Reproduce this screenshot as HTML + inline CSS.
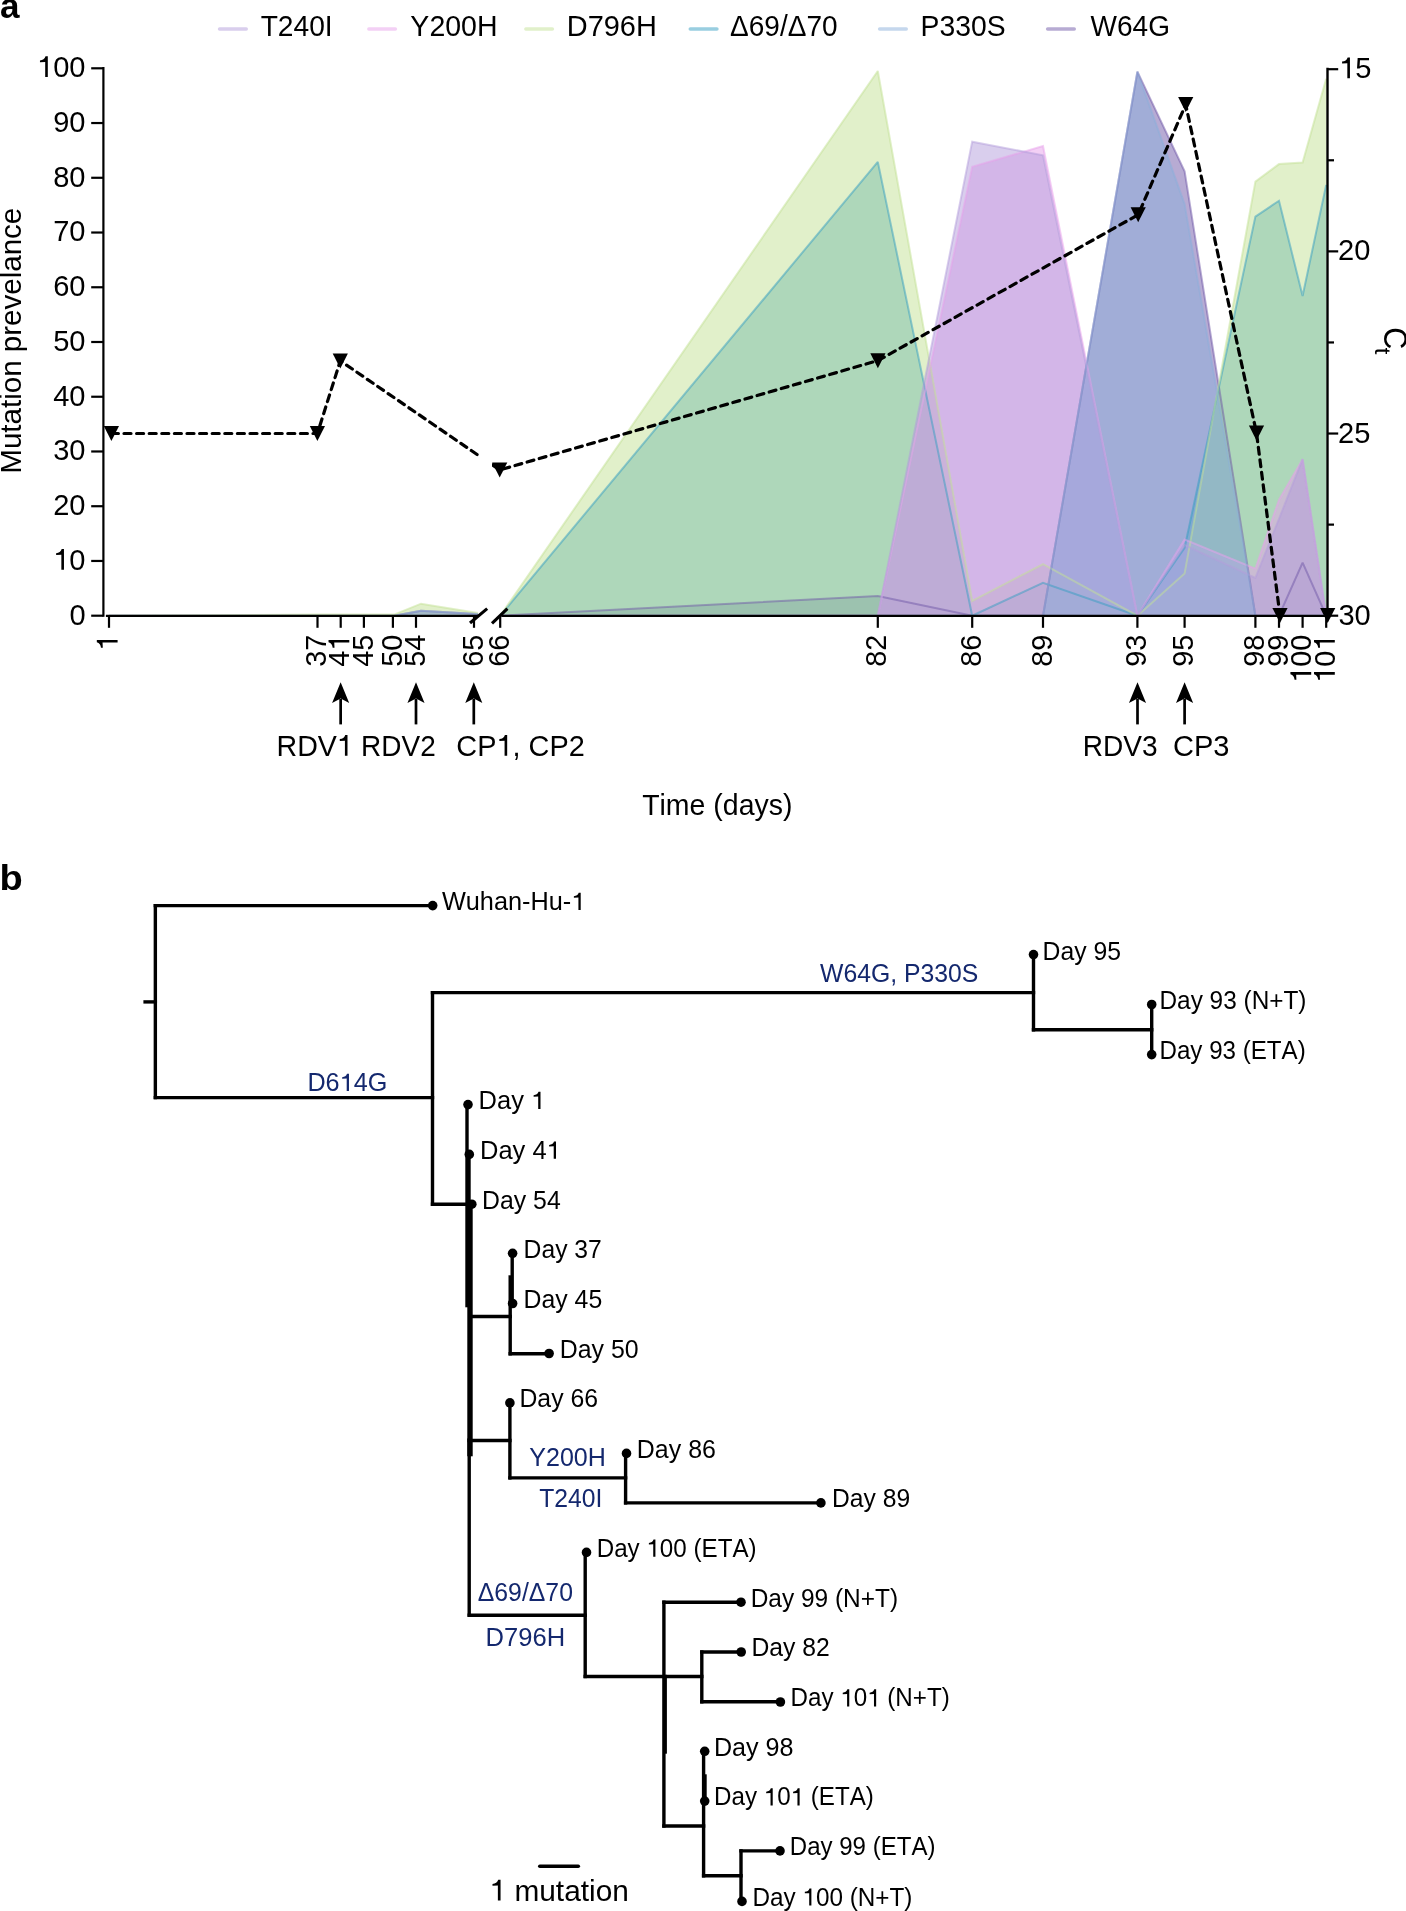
<!DOCTYPE html><html><head><meta charset="utf-8"><style>
html,body{margin:0;padding:0;background:#fff;}
body{width:1406px;height:1911px;overflow:hidden;}
svg{display:block;font-family:"Liberation Sans",sans-serif;font-kerning:none;will-change:transform;}
</style></head><body>
<svg width="1406" height="1911" viewBox="0 0 1406 1911">
<g transform="translate(0.07,17.60) scale(1.0020,1)" fill="#000"><text x="0" y="0" font-size="35.00" font-weight="bold">a</text></g>
<g transform="translate(-0.41,889.60) scale(1.0886,1)" fill="#000"><text x="0" y="0" font-size="35.00" font-weight="bold">b</text></g>
<line x1="219.6" y1="29" x2="246.2" y2="29" stroke="rgb(180,158,220)" stroke-opacity="0.5" stroke-width="3.6" stroke-linecap="round"/>
<g transform="translate(260.67,35.80) scale(0.9328,1)" fill="#000"><text x="0" y="0" font-size="30.20">T240I</text></g>
<line x1="368.9" y1="29" x2="395.3" y2="29" stroke="rgb(232,162,235)" stroke-opacity="0.5" stroke-width="3.6" stroke-linecap="round"/>
<g transform="translate(410.37,35.80) scale(0.9438,1)" fill="#000"><text x="0" y="0" font-size="30.20">Y200H</text></g>
<line x1="525.9" y1="29" x2="552.3" y2="29" stroke="rgb(195,225,150)" stroke-opacity="0.5" stroke-width="3.6" stroke-linecap="round"/>
<g transform="translate(566.72,35.80) scale(0.9588,1)" fill="#000"><text x="0" y="0" font-size="30.20">D796H</text></g>
<line x1="690.3" y1="29" x2="716.9" y2="29" stroke="rgb(52,157,194)" stroke-opacity="0.5" stroke-width="3.6" stroke-linecap="round"/>
<g transform="translate(730.07,35.80) scale(0.9276,1)" fill="#000"><text x="0" y="0" font-size="30.20">Δ69/Δ70</text></g>
<line x1="879.7" y1="29" x2="906.2" y2="29" stroke="rgb(140,176,220)" stroke-opacity="0.5" stroke-width="3.6" stroke-linecap="round"/>
<g transform="translate(920.58,35.80) scale(0.9377,1)" fill="#000"><text x="0" y="0" font-size="30.20">P330S</text></g>
<line x1="1047.7" y1="29" x2="1074.2" y2="29" stroke="rgb(112,88,168)" stroke-opacity="0.5" stroke-width="3.6" stroke-linecap="round"/>
<g transform="translate(1090.58,35.80) scale(0.9279,1)" fill="#000"><text x="0" y="0" font-size="30.20">W64G</text></g>
<g>
<path d="M109.00,615.70 L109.00,615.70 317.50,615.70 340.70,615.70 363.90,615.70 394.00,615.70 421.00,610.77 478.00,614.06 L478.00,615.70 Z" fill="rgb(112,88,168)" fill-opacity="0.5"/>
<path d="M500.20,615.70 L500.20,615.70 877.80,595.99 972.20,615.70 1043.00,615.70 1137.40,71.58 1184.60,171.21 1255.40,615.70 1279.00,615.70 1302.60,562.60 1326.20,615.70 L1326.20,615.70 Z" fill="rgb(112,88,168)" fill-opacity="0.5"/>
<path d="M500.20,615.70 L500.20,615.70 877.80,161.91 972.20,615.70 1043.00,582.86 1137.40,615.70 1184.60,547.82 1255.40,216.65 1279.00,200.77 1302.60,296.02 1326.20,184.90 L1326.20,615.70 Z" fill="rgb(52,157,194)" fill-opacity="0.5"/>
<path d="M109.00,615.70 L109.00,615.70 317.50,614.61 340.70,614.61 363.90,614.61 394.00,614.61 421.00,603.66 478.00,612.96 L478.00,615.70 Z" fill="rgb(195,225,150)" fill-opacity="0.5"/>
<path d="M500.20,615.70 L500.20,615.70 877.80,71.04 972.20,600.92 1043.00,564.24 1137.40,615.70 1184.60,573.55 1255.40,181.61 1279.00,164.09 1302.60,162.45 1326.20,78.70 L1326.20,615.70 Z" fill="rgb(195,225,150)" fill-opacity="0.5"/>
<path d="M500.20,615.70 L500.20,615.70 877.80,615.70 972.20,166.83 1043.00,146.03 1137.40,615.70 1184.60,539.61 1255.40,568.62 1279.00,499.65 1302.60,459.14 1326.20,615.70 L1326.20,615.70 Z" fill="rgb(232,162,235)" fill-opacity="0.5"/>
<path d="M500.20,615.70 L500.20,615.70 877.80,615.70 972.20,141.65 1043.00,155.34 1137.40,615.70 1184.60,545.09 1255.40,577.93 1279.00,518.81 1302.60,459.14 1326.20,615.70 L1326.20,615.70 Z" fill="rgb(180,158,220)" fill-opacity="0.5"/>
<path d="M109.00,615.70 L109.00,615.70 317.50,615.70 340.70,615.70 363.90,615.70 394.00,615.70 421.00,610.77 478.00,614.06 L478.00,615.70 Z" fill="rgb(140,176,220)" fill-opacity="0.5"/>
<path d="M500.20,615.70 L500.20,615.70 877.80,615.70 972.20,615.70 1043.00,615.70 1137.40,71.58 1184.60,204.06 1255.40,615.70 1279.00,615.70 1302.60,615.70 1326.20,615.70 L1326.20,615.70 Z" fill="rgb(140,176,220)" fill-opacity="0.5"/>
<path d="M109.00,615.70 L317.50,615.70 L340.70,615.70 L363.90,615.70 L394.00,615.70 L421.00,610.77 L478.00,614.06" fill="none" stroke="rgb(112,88,168)" stroke-opacity="0.5" stroke-width="2.0" stroke-linejoin="miter" stroke-miterlimit="2"/>
<path d="M500.20,615.70 L877.80,595.99 L972.20,615.70 L1043.00,615.70 L1137.40,71.58 L1184.60,171.21 L1255.40,615.70 L1279.00,615.70 L1302.60,562.60 L1326.20,615.70" fill="none" stroke="rgb(112,88,168)" stroke-opacity="0.5" stroke-width="2.0" stroke-linejoin="miter" stroke-miterlimit="2"/>
<path d="M500.20,615.70 L877.80,161.91 L972.20,615.70 L1043.00,582.86 L1137.40,615.70 L1184.60,547.82 L1255.40,216.65 L1279.00,200.77 L1302.60,296.02 L1326.20,184.90" fill="none" stroke="rgb(52,157,194)" stroke-opacity="0.5" stroke-width="2.0" stroke-linejoin="miter" stroke-miterlimit="2"/>
<path d="M109.00,615.70 L317.50,614.61 L340.70,614.61 L363.90,614.61 L394.00,614.61 L421.00,603.66 L478.00,612.96" fill="none" stroke="rgb(195,225,150)" stroke-opacity="0.5" stroke-width="2.0" stroke-linejoin="miter" stroke-miterlimit="2"/>
<path d="M500.20,615.70 L877.80,71.04 L972.20,600.92 L1043.00,564.24 L1137.40,615.70 L1184.60,573.55 L1255.40,181.61 L1279.00,164.09 L1302.60,162.45 L1326.20,78.70" fill="none" stroke="rgb(195,225,150)" stroke-opacity="0.5" stroke-width="2.0" stroke-linejoin="miter" stroke-miterlimit="2"/>
<path d="M500.20,615.70 L877.80,615.70 L972.20,166.83 L1043.00,146.03 L1137.40,615.70 L1184.60,539.61 L1255.40,568.62 L1279.00,499.65 L1302.60,459.14 L1326.20,615.70" fill="none" stroke="rgb(232,162,235)" stroke-opacity="0.5" stroke-width="2.0" stroke-linejoin="miter" stroke-miterlimit="2"/>
<path d="M500.20,615.70 L877.80,615.70 L972.20,141.65 L1043.00,155.34 L1137.40,615.70 L1184.60,545.09 L1255.40,577.93 L1279.00,518.81 L1302.60,459.14 L1326.20,615.70" fill="none" stroke="rgb(180,158,220)" stroke-opacity="0.5" stroke-width="2.0" stroke-linejoin="miter" stroke-miterlimit="2"/>
<path d="M109.00,615.70 L317.50,615.70 L340.70,615.70 L363.90,615.70 L394.00,615.70 L421.00,610.77 L478.00,614.06" fill="none" stroke="rgb(140,176,220)" stroke-opacity="0.5" stroke-width="2.0" stroke-linejoin="miter" stroke-miterlimit="2"/>
<path d="M500.20,615.70 L877.80,615.70 L972.20,615.70 L1043.00,615.70 L1137.40,71.58 L1184.60,204.06 L1255.40,615.70 L1279.00,615.70 L1302.60,615.70 L1326.20,615.70" fill="none" stroke="rgb(140,176,220)" stroke-opacity="0.5" stroke-width="2.0" stroke-linejoin="miter" stroke-miterlimit="2"/>
</g>
<line x1="103.4" y1="67.1" x2="103.4" y2="616.8" stroke="#000" stroke-width="2.2"/>
<line x1="91.2" y1="615.70" x2="103.4" y2="615.70" stroke="#000" stroke-width="2.2"/>
<g transform="translate(69.38,624.50) scale(0.9620,1)" fill="#000"><text x="0" y="0" font-size="30.20">0</text></g>
<line x1="91.2" y1="560.96" x2="103.4" y2="560.96" stroke="#000" stroke-width="2.2"/>
<g transform="translate(53.22,569.76) scale(0.9620,1)" fill="#000"><text x="0" y="0" font-size="30.20"> 0</text><path d="M11.17,-20.78 L11.17,0.00 L8.46,0.00 L8.46,-15.06 L3.02,-14.79 L3.02,-16.62 C6.04,-16.93 7.91,-18.08 8.82,-20.78 Z"/></g>
<line x1="91.2" y1="506.22" x2="103.4" y2="506.22" stroke="#000" stroke-width="2.2"/>
<g transform="translate(53.22,515.02) scale(0.9620,1)" fill="#000"><text x="0" y="0" font-size="30.20">20</text></g>
<line x1="91.2" y1="451.48" x2="103.4" y2="451.48" stroke="#000" stroke-width="2.2"/>
<g transform="translate(53.22,460.28) scale(0.9620,1)" fill="#000"><text x="0" y="0" font-size="30.20">30</text></g>
<line x1="91.2" y1="396.74" x2="103.4" y2="396.74" stroke="#000" stroke-width="2.2"/>
<g transform="translate(53.22,405.54) scale(0.9620,1)" fill="#000"><text x="0" y="0" font-size="30.20">40</text></g>
<line x1="91.2" y1="342.00" x2="103.4" y2="342.00" stroke="#000" stroke-width="2.2"/>
<g transform="translate(53.22,350.80) scale(0.9620,1)" fill="#000"><text x="0" y="0" font-size="30.20">50</text></g>
<line x1="91.2" y1="287.26" x2="103.4" y2="287.26" stroke="#000" stroke-width="2.2"/>
<g transform="translate(53.22,296.06) scale(0.9620,1)" fill="#000"><text x="0" y="0" font-size="30.20">60</text></g>
<line x1="91.2" y1="232.52" x2="103.4" y2="232.52" stroke="#000" stroke-width="2.2"/>
<g transform="translate(53.22,241.32) scale(0.9620,1)" fill="#000"><text x="0" y="0" font-size="30.20">70</text></g>
<line x1="91.2" y1="177.78" x2="103.4" y2="177.78" stroke="#000" stroke-width="2.2"/>
<g transform="translate(53.22,186.58) scale(0.9620,1)" fill="#000"><text x="0" y="0" font-size="30.20">80</text></g>
<line x1="91.2" y1="123.04" x2="103.4" y2="123.04" stroke="#000" stroke-width="2.2"/>
<g transform="translate(53.22,131.84) scale(0.9620,1)" fill="#000"><text x="0" y="0" font-size="30.20">90</text></g>
<line x1="91.2" y1="68.30" x2="103.4" y2="68.30" stroke="#000" stroke-width="2.2"/>
<g transform="translate(37.06,77.10) scale(0.9620,1)" fill="#000"><text x="0" y="0" font-size="30.20"> 00</text><path d="M11.17,-20.78 L11.17,0.00 L8.46,0.00 L8.46,-15.06 L3.02,-14.79 L3.02,-16.62 C6.04,-16.93 7.91,-18.08 8.82,-20.78 Z"/></g>
<line x1="105.9" y1="615.9" x2="478.5" y2="615.9" stroke="#000" stroke-width="2.2"/>
<line x1="501.5" y1="615.9" x2="1328.6" y2="615.9" stroke="#000" stroke-width="2.2"/>
<line x1="470.0" y1="623.0" x2="487.2" y2="608.6" stroke="#000" stroke-width="3.1"/>
<line x1="492.0" y1="623.4" x2="507.4" y2="608.6" stroke="#000" stroke-width="3.1"/>
<line x1="109.00" y1="615.9" x2="109.00" y2="627.8" stroke="#000" stroke-width="2.2"/>
<g transform="translate(117.60,650.64) rotate(-90) scale(0.9550,1)"><text x="0" y="0" font-size="30.20"> </text><path d="M11.17,-20.78 L11.17,0.00 L8.46,0.00 L8.46,-15.06 L3.02,-14.79 L3.02,-16.62 C6.04,-16.93 7.91,-18.08 8.82,-20.78 Z"/></g>
<line x1="317.50" y1="615.9" x2="317.50" y2="627.8" stroke="#000" stroke-width="2.2"/>
<g transform="translate(326.10,666.68) rotate(-90) scale(0.9550,1)"><text x="0" y="0" font-size="30.20">37</text></g>
<line x1="340.70" y1="615.9" x2="340.70" y2="627.8" stroke="#000" stroke-width="2.2"/>
<g transform="translate(349.30,666.68) rotate(-90) scale(0.9550,1)"><text x="0" y="0" font-size="30.20">4 </text><path d="M27.97,-20.78 L27.97,0.00 L25.25,0.00 L25.25,-15.06 L19.82,-14.79 L19.82,-16.62 C22.84,-16.93 24.71,-18.08 25.61,-20.78 Z"/></g>
<line x1="363.90" y1="615.9" x2="363.90" y2="627.8" stroke="#000" stroke-width="2.2"/>
<g transform="translate(372.50,666.68) rotate(-90) scale(0.9550,1)"><text x="0" y="0" font-size="30.20">45</text></g>
<line x1="392.90" y1="615.9" x2="392.90" y2="627.8" stroke="#000" stroke-width="2.2"/>
<g transform="translate(401.50,666.68) rotate(-90) scale(0.9550,1)"><text x="0" y="0" font-size="30.20">50</text></g>
<line x1="416.00" y1="615.9" x2="416.00" y2="627.8" stroke="#000" stroke-width="2.2"/>
<g transform="translate(424.60,666.68) rotate(-90) scale(0.9550,1)"><text x="0" y="0" font-size="30.20">54</text></g>
<line x1="474.00" y1="615.9" x2="474.00" y2="627.8" stroke="#000" stroke-width="2.2"/>
<g transform="translate(482.60,666.68) rotate(-90) scale(0.9550,1)"><text x="0" y="0" font-size="30.20">65</text></g>
<line x1="500.20" y1="615.9" x2="500.20" y2="627.8" stroke="#000" stroke-width="2.2"/>
<g transform="translate(508.80,666.68) rotate(-90) scale(0.9550,1)"><text x="0" y="0" font-size="30.20">66</text></g>
<line x1="877.80" y1="615.9" x2="877.80" y2="627.8" stroke="#000" stroke-width="2.2"/>
<g transform="translate(886.40,666.68) rotate(-90) scale(0.9550,1)"><text x="0" y="0" font-size="30.20">82</text></g>
<line x1="972.20" y1="615.9" x2="972.20" y2="627.8" stroke="#000" stroke-width="2.2"/>
<g transform="translate(980.80,666.68) rotate(-90) scale(0.9550,1)"><text x="0" y="0" font-size="30.20">86</text></g>
<line x1="1043.00" y1="615.9" x2="1043.00" y2="627.8" stroke="#000" stroke-width="2.2"/>
<g transform="translate(1051.60,666.68) rotate(-90) scale(0.9550,1)"><text x="0" y="0" font-size="30.20">89</text></g>
<line x1="1137.40" y1="615.9" x2="1137.40" y2="627.8" stroke="#000" stroke-width="2.2"/>
<g transform="translate(1146.00,666.68) rotate(-90) scale(0.9550,1)"><text x="0" y="0" font-size="30.20">93</text></g>
<line x1="1184.60" y1="615.9" x2="1184.60" y2="627.8" stroke="#000" stroke-width="2.2"/>
<g transform="translate(1193.20,666.68) rotate(-90) scale(0.9550,1)"><text x="0" y="0" font-size="30.20">95</text></g>
<line x1="1255.40" y1="615.9" x2="1255.40" y2="627.8" stroke="#000" stroke-width="2.2"/>
<g transform="translate(1264.00,666.68) rotate(-90) scale(0.9550,1)"><text x="0" y="0" font-size="30.20">98</text></g>
<line x1="1279.00" y1="615.9" x2="1279.00" y2="627.8" stroke="#000" stroke-width="2.2"/>
<g transform="translate(1287.60,666.68) rotate(-90) scale(0.9550,1)"><text x="0" y="0" font-size="30.20">99</text></g>
<line x1="1302.60" y1="615.9" x2="1302.60" y2="627.8" stroke="#000" stroke-width="2.2"/>
<g transform="translate(1311.20,682.72) rotate(-90) scale(0.9550,1)"><text x="0" y="0" font-size="30.20"> 00</text><path d="M11.17,-20.78 L11.17,0.00 L8.46,0.00 L8.46,-15.06 L3.02,-14.79 L3.02,-16.62 C6.04,-16.93 7.91,-18.08 8.82,-20.78 Z"/></g>
<line x1="1326.20" y1="615.9" x2="1326.20" y2="627.8" stroke="#000" stroke-width="2.2"/>
<g transform="translate(1334.80,682.72) rotate(-90) scale(0.9550,1)"><text x="0" y="0" font-size="30.20"> 0 </text><path d="M11.17,-20.78 L11.17,0.00 L8.46,0.00 L8.46,-15.06 L3.02,-14.79 L3.02,-16.62 C6.04,-16.93 7.91,-18.08 8.82,-20.78 Z"/><path d="M44.77,-20.78 L44.77,0.00 L42.05,0.00 L42.05,-15.06 L36.61,-14.79 L36.61,-16.62 C39.63,-16.93 41.50,-18.08 42.41,-20.78 Z"/></g>
<line x1="1327.5" y1="67.7" x2="1327.5" y2="616.8" stroke="#000" stroke-width="2.4"/>
<line x1="1327.5" y1="69.20" x2="1338.20" y2="69.20" stroke="#000" stroke-width="2.2"/>
<g transform="translate(1339.19,78.20) scale(0.9620,1)" fill="#000"><text x="0" y="0" font-size="30.20"> 5</text><path d="M11.17,-20.78 L11.17,0.00 L8.46,0.00 L8.46,-15.06 L3.02,-14.79 L3.02,-16.62 C6.04,-16.93 7.91,-18.08 8.82,-20.78 Z"/></g>
<line x1="1327.5" y1="160.28" x2="1334.00" y2="160.28" stroke="#000" stroke-width="2.2"/>
<line x1="1327.5" y1="251.37" x2="1338.20" y2="251.37" stroke="#000" stroke-width="2.2"/>
<g transform="translate(1338.04,260.37) scale(0.9620,1)" fill="#000"><text x="0" y="0" font-size="30.20">20</text></g>
<line x1="1327.5" y1="342.45" x2="1334.00" y2="342.45" stroke="#000" stroke-width="2.2"/>
<line x1="1327.5" y1="433.53" x2="1338.20" y2="433.53" stroke="#000" stroke-width="2.2"/>
<g transform="translate(1338.04,442.53) scale(0.9620,1)" fill="#000"><text x="0" y="0" font-size="30.20">25</text></g>
<line x1="1327.5" y1="524.62" x2="1334.00" y2="524.62" stroke="#000" stroke-width="2.2"/>
<line x1="1327.5" y1="615.70" x2="1338.20" y2="615.70" stroke="#000" stroke-width="2.2"/>
<g transform="translate(1338.39,624.70) scale(0.9620,1)" fill="#000"><text x="0" y="0" font-size="30.20">30</text></g>
<g transform="translate(1383.60,327.15) rotate(90) scale(0.9377,1)" fill="#000"><text x="0" y="0" font-size="32.50">C</text></g>
<g transform="translate(1375.00,347.84) rotate(90) scale(1.1110,1)" fill="#000"><text x="0" y="0" font-size="21.50">t</text></g>
<g transform="translate(21.05,473.72) rotate(-90) scale(0.9786,1)" fill="#000"><text x="0" y="0" font-size="30.20">Mutation prevelance</text></g>
<g transform="translate(642.16,815.20) scale(0.9429,1)" fill="#000"><text x="0" y="0" font-size="30.20">Time (days)</text></g>
<defs><clipPath id="brk"><path d="M0,0 H479 V700 H0 Z M492,0 H1406 V700 H492 Z"/></clipPath></defs>
<path clip-path="url(#brk)" d="M111.4,433.5 L317.4,433.5 L340.3,360.8 L499.7,470.0 L877.9,360.6 L1138.2,214.7 L1185.7,104.5 L1256.5,433.0 L1280.0,615.5" fill="none" stroke="#000" stroke-width="3.2" stroke-dasharray="7.0 5.6" stroke-linecap="round" stroke-linejoin="round"/>
<path d="M103.80,426.10 L119.00,426.10 L111.40,441.10 Z" fill="#000"/>
<path d="M309.80,426.10 L325.00,426.10 L317.40,441.10 Z" fill="#000"/>
<path d="M332.70,353.40 L347.90,353.40 L340.30,368.40 Z" fill="#000"/>
<path d="M492.10,462.60 L507.30,462.60 L499.70,477.60 Z" fill="#000"/>
<path d="M870.30,353.20 L885.50,353.20 L877.90,368.20 Z" fill="#000"/>
<path d="M1130.60,207.30 L1145.80,207.30 L1138.20,222.30 Z" fill="#000"/>
<path d="M1178.10,97.10 L1193.30,97.10 L1185.70,112.10 Z" fill="#000"/>
<path d="M1248.90,425.60 L1264.10,425.60 L1256.50,440.60 Z" fill="#000"/>
<path d="M1272.40,608.10 L1287.60,608.10 L1280.00,623.10 Z" fill="#000"/>
<path d="M1320.10,608.10 L1335.30,608.10 L1327.70,623.10 Z" fill="#000"/>
<line x1="340.65" y1="699" x2="340.65" y2="724.4" stroke="#000" stroke-width="2.7"/>
<path d="M340.65,682.2 L349.20,702.9 L340.65,698.4 L332.10,702.9 Z" fill="#000"/>
<line x1="416.00" y1="699" x2="416.00" y2="724.4" stroke="#000" stroke-width="2.7"/>
<path d="M416.00,682.2 L424.55,702.9 L416.00,698.4 L407.45,702.9 Z" fill="#000"/>
<line x1="473.80" y1="699" x2="473.80" y2="724.4" stroke="#000" stroke-width="2.7"/>
<path d="M473.80,682.2 L482.35,702.9 L473.80,698.4 L465.25,702.9 Z" fill="#000"/>
<line x1="1137.50" y1="699" x2="1137.50" y2="724.4" stroke="#000" stroke-width="2.7"/>
<path d="M1137.50,682.2 L1146.05,702.9 L1137.50,698.4 L1128.95,702.9 Z" fill="#000"/>
<line x1="1184.60" y1="699" x2="1184.60" y2="724.4" stroke="#000" stroke-width="2.7"/>
<path d="M1184.60,682.2 L1193.15,702.9 L1184.60,698.4 L1176.05,702.9 Z" fill="#000"/>
<g transform="translate(276.55,755.70) scale(0.9467,1)" fill="#000"><text x="0" y="0" font-size="30.20">RDV </text><path d="M74.94,-20.78 L74.94,0.00 L72.22,0.00 L72.22,-15.06 L66.78,-14.79 L66.78,-16.62 C69.80,-16.93 71.67,-18.08 72.58,-20.78 Z"/></g>
<g transform="translate(361.11,755.70) scale(0.9261,1)" fill="#000"><text x="0" y="0" font-size="30.20">RDV2</text></g>
<g transform="translate(456.33,755.70) scale(0.9571,1)" fill="#000"><text x="0" y="0" font-size="30.20">CP , CP2</text><path d="M53.13,-20.78 L53.13,0.00 L50.41,0.00 L50.41,-15.06 L44.97,-14.79 L44.97,-16.62 C47.99,-16.93 49.87,-18.08 50.77,-20.78 Z"/></g>
<g transform="translate(1082.80,755.70) scale(0.9289,1)" fill="#000"><text x="0" y="0" font-size="30.20">RDV3</text></g>
<g transform="translate(1172.93,755.70) scale(0.9609,1)" fill="#000"><text x="0" y="0" font-size="30.20">CP3</text></g>
<line x1="143.40" y1="1001.90" x2="157.05" y2="1001.90" stroke="#000" stroke-width="3.4"/>
<line x1="155.35" y1="903.90" x2="155.35" y2="1099.30" stroke="#000" stroke-width="3.4"/>
<line x1="153.65" y1="905.60" x2="434.40" y2="905.60" stroke="#000" stroke-width="3.4"/>
<circle cx="432.70" cy="905.60" r="4.8" fill="#000"/>
<g transform="translate(441.89,910.00) scale(1.0127,1)" fill="#000"><text x="0" y="0" font-size="25.00">Wuhan-Hu- </text><path d="M137.07,-17.20 L137.07,0.00 L134.82,0.00 L134.82,-12.47 L130.32,-12.25 L130.32,-13.76 C132.82,-14.02 134.37,-14.96 135.12,-17.20 Z"/></g>
<line x1="153.65" y1="1097.60" x2="434.20" y2="1097.60" stroke="#000" stroke-width="3.4"/>
<g transform="translate(307.43,1091.00) scale(1.0081,1)" fill="#14286e"><text x="0" y="0" font-size="25.00">D6 4G</text><path d="M41.21,-17.20 L41.21,0.00 L38.96,0.00 L38.96,-12.47 L34.46,-12.25 L34.46,-13.76 C36.96,-14.02 38.51,-14.96 39.26,-17.20 Z"/></g>
<line x1="432.50" y1="990.90" x2="432.50" y2="1206.00" stroke="#000" stroke-width="3.4"/>
<line x1="430.80" y1="992.60" x2="1035.20" y2="992.60" stroke="#000" stroke-width="3.4"/>
<g transform="translate(820.09,982.10) scale(0.9909,1)" fill="#14286e"><text x="0" y="0" font-size="25.00">W64G, P330S</text></g>
<line x1="1033.50" y1="952.90" x2="1033.50" y2="1031.50" stroke="#000" stroke-width="3.4"/>
<circle cx="1033.50" cy="954.60" r="4.8" fill="#000"/>
<g transform="translate(1042.57,959.50) scale(0.9907,1)" fill="#000"><text x="0" y="0" font-size="25.00">Day 95</text></g>
<line x1="1031.80" y1="1029.80" x2="1153.40" y2="1029.80" stroke="#000" stroke-width="3.4"/>
<line x1="1151.70" y1="1002.80" x2="1151.70" y2="1056.30" stroke="#000" stroke-width="3.4"/>
<circle cx="1151.70" cy="1004.50" r="4.8" fill="#000"/>
<g transform="translate(1159.50,1009.00) scale(0.9753,1)" fill="#000"><text x="0" y="0" font-size="25.00">Day 93 (N+T)</text></g>
<circle cx="1151.70" cy="1054.60" r="4.8" fill="#000"/>
<g transform="translate(1159.52,1059.00) scale(0.9660,1)" fill="#000"><text x="0" y="0" font-size="25.00">Day 93 (ETA)</text></g>
<line x1="430.80" y1="1204.30" x2="468.70" y2="1204.30" stroke="#000" stroke-width="3.4"/>
<line x1="467.00" y1="1102.90" x2="467.00" y2="1307.30" stroke="#000" stroke-width="3.4"/>
<line x1="469.00" y1="1152.70" x2="469.00" y2="1456.30" stroke="#000" stroke-width="3.4"/>
<line x1="471.00" y1="1202.50" x2="471.00" y2="1456.30" stroke="#000" stroke-width="3.4"/>
<line x1="469.20" y1="1438.30" x2="469.20" y2="1616.70" stroke="#000" stroke-width="3.4"/>
<circle cx="468.00" cy="1104.60" r="4.8" fill="#000"/>
<g transform="translate(478.61,1109.00) scale(1.0204,1)" fill="#000"><text x="0" y="0" font-size="25.00">Day  </text><path d="M60.65,-17.20 L60.65,0.00 L58.40,0.00 L58.40,-12.47 L53.90,-12.25 L53.90,-13.76 C56.40,-14.02 57.95,-14.96 58.70,-17.20 Z"/></g>
<circle cx="469.30" cy="1154.40" r="4.8" fill="#000"/>
<g transform="translate(480.01,1158.80) scale(1.0192,1)" fill="#000"><text x="0" y="0" font-size="25.00">Day 4 </text><path d="M74.56,-17.20 L74.56,0.00 L72.31,0.00 L72.31,-12.47 L67.81,-12.25 L67.81,-13.76 C70.31,-14.02 71.86,-14.96 72.61,-17.20 Z"/></g>
<circle cx="471.80" cy="1204.20" r="4.8" fill="#000"/>
<g transform="translate(482.06,1208.60) scale(0.9931,1)" fill="#000"><text x="0" y="0" font-size="25.00">Day 54</text></g>
<line x1="469.30" y1="1316.50" x2="511.90" y2="1316.50" stroke="#000" stroke-width="3.4"/>
<line x1="510.20" y1="1275.30" x2="510.20" y2="1355.50" stroke="#000" stroke-width="3.4"/>
<line x1="512.20" y1="1251.60" x2="512.20" y2="1305.20" stroke="#000" stroke-width="3.4"/>
<circle cx="512.60" cy="1253.30" r="4.8" fill="#000"/>
<g transform="translate(523.57,1257.70) scale(0.9881,1)" fill="#000"><text x="0" y="0" font-size="25.00">Day 37</text></g>
<circle cx="512.60" cy="1303.50" r="4.8" fill="#000"/>
<g transform="translate(523.56,1307.90) scale(0.9933,1)" fill="#000"><text x="0" y="0" font-size="25.00">Day 45</text></g>
<line x1="508.50" y1="1353.80" x2="550.80" y2="1353.80" stroke="#000" stroke-width="3.4"/>
<circle cx="549.10" cy="1353.50" r="4.8" fill="#000"/>
<g transform="translate(559.76,1357.70) scale(0.9963,1)" fill="#000"><text x="0" y="0" font-size="25.00">Day 50</text></g>
<line x1="467.50" y1="1440.50" x2="511.60" y2="1440.50" stroke="#000" stroke-width="3.4"/>
<line x1="509.90" y1="1401.20" x2="509.90" y2="1479.60" stroke="#000" stroke-width="3.4"/>
<circle cx="509.90" cy="1402.90" r="4.8" fill="#000"/>
<g transform="translate(519.46,1407.30) scale(0.9926,1)" fill="#000"><text x="0" y="0" font-size="25.00">Day 66</text></g>
<g transform="translate(529.25,1465.60) scale(1.0020,1)" fill="#14286e"><text x="0" y="0" font-size="25.00">Y200H</text></g>
<g transform="translate(539.25,1506.90) scale(0.9876,1)" fill="#14286e"><text x="0" y="0" font-size="25.00">T240I</text></g>
<line x1="508.20" y1="1477.90" x2="627.30" y2="1477.90" stroke="#000" stroke-width="3.4"/>
<line x1="625.60" y1="1451.70" x2="625.60" y2="1504.60" stroke="#000" stroke-width="3.4"/>
<circle cx="626.50" cy="1453.40" r="4.8" fill="#000"/>
<g transform="translate(636.85,1457.60) scale(0.9979,1)" fill="#000"><text x="0" y="0" font-size="25.00">Day 86</text></g>
<line x1="623.90" y1="1502.90" x2="822.60" y2="1502.90" stroke="#000" stroke-width="3.4"/>
<circle cx="820.90" cy="1502.90" r="4.8" fill="#000"/>
<g transform="translate(831.98,1507.20) scale(0.9871,1)" fill="#000"><text x="0" y="0" font-size="25.00">Day 89</text></g>
<line x1="467.50" y1="1615.20" x2="586.90" y2="1615.20" stroke="#000" stroke-width="3.4"/>
<g transform="translate(477.76,1601.10) scale(0.9922,1)" fill="#14286e"><text x="0" y="0" font-size="25.00">Δ69/Δ70</text></g>
<g transform="translate(485.60,1645.60) scale(1.0226,1)" fill="#14286e"><text x="0" y="0" font-size="25.00">D796H</text></g>
<line x1="585.20" y1="1550.70" x2="585.20" y2="1678.20" stroke="#000" stroke-width="3.4"/>
<circle cx="586.50" cy="1552.40" r="4.8" fill="#000"/>
<g transform="translate(596.72,1556.70) scale(0.9677,1)" fill="#000"><text x="0" y="0" font-size="25.00">Day  00 (ETA)</text><path d="M60.65,-17.20 L60.65,0.00 L58.40,0.00 L58.40,-12.47 L53.90,-12.25 L53.90,-13.76 C56.40,-14.02 57.95,-14.96 58.70,-17.20 Z"/></g>
<line x1="583.50" y1="1676.50" x2="703.50" y2="1676.50" stroke="#000" stroke-width="3.4"/>
<line x1="663.90" y1="1600.50" x2="663.90" y2="1827.70" stroke="#000" stroke-width="3.4"/>
<line x1="665.20" y1="1674.80" x2="665.20" y2="1753.70" stroke="#000" stroke-width="3.4"/>
<line x1="662.20" y1="1602.20" x2="742.70" y2="1602.20" stroke="#000" stroke-width="3.4"/>
<circle cx="741.00" cy="1602.20" r="4.8" fill="#000"/>
<g transform="translate(750.69,1606.50) scale(0.9787,1)" fill="#000"><text x="0" y="0" font-size="25.00">Day 99 (N+T)</text></g>
<line x1="701.80" y1="1650.30" x2="701.80" y2="1703.50" stroke="#000" stroke-width="3.4"/>
<line x1="700.10" y1="1652.00" x2="742.90" y2="1652.00" stroke="#000" stroke-width="3.4"/>
<circle cx="741.20" cy="1652.00" r="4.8" fill="#000"/>
<g transform="translate(751.47,1656.30) scale(0.9894,1)" fill="#000"><text x="0" y="0" font-size="25.00">Day 82</text></g>
<line x1="700.10" y1="1701.80" x2="782.10" y2="1701.80" stroke="#000" stroke-width="3.4"/>
<circle cx="780.40" cy="1702.00" r="4.8" fill="#000"/>
<g transform="translate(790.62,1706.40) scale(0.9669,1)" fill="#000"><text x="0" y="0" font-size="25.00">Day  0  (N+T)</text><path d="M60.65,-17.20 L60.65,0.00 L58.40,0.00 L58.40,-12.47 L53.90,-12.25 L53.90,-13.76 C56.40,-14.02 57.95,-14.96 58.70,-17.20 Z"/><path d="M88.46,-17.20 L88.46,0.00 L86.21,0.00 L86.21,-12.47 L81.71,-12.25 L81.71,-13.76 C84.21,-14.02 85.76,-14.96 86.51,-17.20 Z"/></g>
<line x1="662.20" y1="1826.00" x2="705.30" y2="1826.00" stroke="#000" stroke-width="3.4"/>
<line x1="703.60" y1="1749.60" x2="703.60" y2="1877.50" stroke="#000" stroke-width="3.4"/>
<line x1="705.00" y1="1774.30" x2="705.00" y2="1802.80" stroke="#000" stroke-width="3.4"/>
<circle cx="704.70" cy="1751.30" r="4.8" fill="#000"/>
<g transform="translate(713.94,1755.60) scale(1.0056,1)" fill="#000"><text x="0" y="0" font-size="25.00">Day 98</text></g>
<circle cx="704.70" cy="1801.10" r="4.8" fill="#000"/>
<g transform="translate(714.02,1805.40) scale(0.9677,1)" fill="#000"><text x="0" y="0" font-size="25.00">Day  0  (ETA)</text><path d="M60.65,-17.20 L60.65,0.00 L58.40,0.00 L58.40,-12.47 L53.90,-12.25 L53.90,-13.76 C56.40,-14.02 57.95,-14.96 58.70,-17.20 Z"/><path d="M88.46,-17.20 L88.46,0.00 L86.21,0.00 L86.21,-12.47 L81.71,-12.25 L81.71,-13.76 C84.21,-14.02 85.76,-14.96 86.51,-17.20 Z"/></g>
<line x1="701.90" y1="1875.80" x2="742.70" y2="1875.80" stroke="#000" stroke-width="3.4"/>
<line x1="741.00" y1="1849.20" x2="741.00" y2="1903.10" stroke="#000" stroke-width="3.4"/>
<line x1="739.30" y1="1850.90" x2="781.70" y2="1850.90" stroke="#000" stroke-width="3.4"/>
<circle cx="780.00" cy="1850.90" r="4.8" fill="#000"/>
<g transform="translate(789.83,1855.20) scale(0.9619,1)" fill="#000"><text x="0" y="0" font-size="25.00">Day 99 (ETA)</text></g>
<circle cx="742.00" cy="1901.40" r="4.8" fill="#000"/>
<g transform="translate(752.41,1905.60) scale(0.9725,1)" fill="#000"><text x="0" y="0" font-size="25.00">Day  00 (N+T)</text><path d="M60.65,-17.20 L60.65,0.00 L58.40,0.00 L58.40,-12.47 L53.90,-12.25 L53.90,-13.76 C56.40,-14.02 57.95,-14.96 58.70,-17.20 Z"/></g>
<line x1="539.8" y1="1866.2" x2="578.3" y2="1866.2" stroke="#000" stroke-width="3.6" stroke-linecap="round"/>
<g transform="translate(489.51,1900.60) scale(0.9887,1)" fill="#000"><text x="0" y="0" font-size="30.20">  mutation</text><path d="M11.17,-20.78 L11.17,0.00 L8.46,0.00 L8.46,-15.06 L3.02,-14.79 L3.02,-16.62 C6.04,-16.93 7.91,-18.08 8.82,-20.78 Z"/></g>
</svg></body></html>
